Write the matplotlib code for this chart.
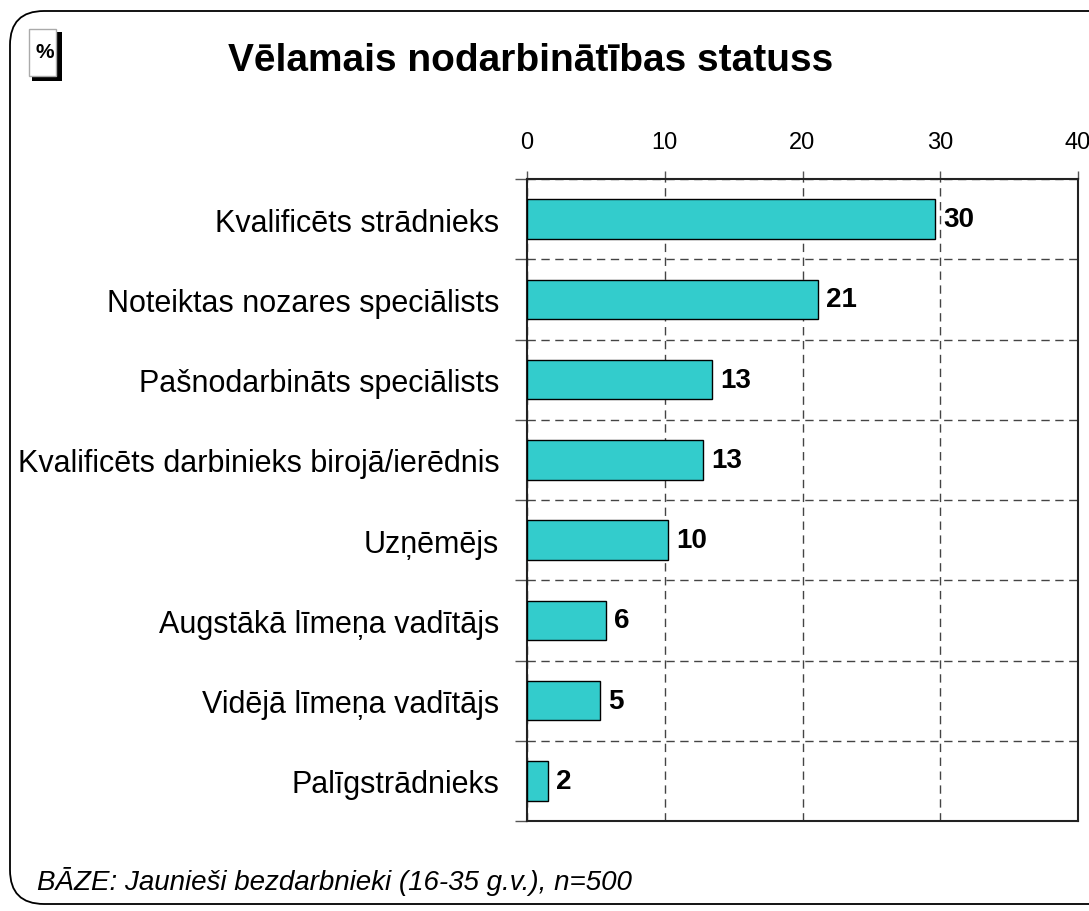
import matplotlib
matplotlib.use("Agg")
import matplotlib.pyplot as plt
from matplotlib.patches import FancyBboxPatch, Rectangle
from matplotlib.ticker import FixedLocator

plt.rcParams['font.family'] = ['Liberation Sans', 'DejaVu Sans']

# dati
categories = [
    "Kvalificēts strādnieks",
    "Noteiktas nozares speciālists",
    "Pašnodarbināts speciālists",
    "Kvalificēts darbinieks birojā/ierēdnis",
    "Uzņēmējs",
    "Augstākā līmeņa vadītājs",
    "Vidējā līmeņa vadītājs",
    "Palīgstrādnieks",
]
values = [29.6, 21.1, 13.4, 12.8, 10.2, 5.7, 5.3, 1.5]
value_labels = ["30", "21", "13", "13", "10", "6", "5", "2"]
x_ticks = [0, 10, 20, 30, 40]

title = "Vēlamais nodarbinātības statuss"
footer = "BĀZE: Jaunieši bezdarbnieki (16-35 g.v.), n=500"

W, H = 1089, 912
fig = plt.figure(figsize=(W / 100, H / 100), dpi=100)

# fons ar noapaļotu rāmi (pikseļu koordinātēs)
bg = fig.add_axes([0, 0, 1, 1], zorder=0)
bg.set_xlim(0, W)
bg.set_ylim(H, 0)
bg.axis("off")
bg.add_patch(FancyBboxPatch((10, 12), 1180, 893,
                            boxstyle="round,pad=0,rounding_size=34",
                            facecolor="white", edgecolor="black", lw=1.3))
# % zīme ar ēnu
bg.add_patch(Rectangle((32, 33), 30, 49, facecolor="black", edgecolor="none"))
bg.add_patch(Rectangle((29, 30), 27, 47, facecolor="white", edgecolor="#aaaaaa", lw=1))
bg.text(44.5, 52, "%", ha="center", va="center", fontsize=15, fontweight="bold")

bg.text(531, 61, title, ha="center", va="center", fontsize=28, fontweight="bold")
bg.text(37, 882, footer, ha="left", va="center", fontsize=20, style="italic")

# galvenais grafiks
ax = fig.add_axes([527 / W, 1 - 822 / H, (1078 - 527) / W, (822 - 180) / H], zorder=1)
ax.patch.set_alpha(0)
n = len(categories)
pos = list(range(n))
ax.barh(pos, values, height=0.49, color="#33CCCC", edgecolor="black", lw=1, zorder=3)
for p, v, lab in zip(pos, values, value_labels):
    ax.annotate(lab, (v, p), xytext=(6, 0), textcoords="offset points",
                ha="left", va="center", fontsize=20, fontweight="bold", zorder=4)

ax.set_xlim(0, 40)
ax.set_ylim(n - 0.5, -0.5)
ax.set_xticks(x_ticks)
ax.xaxis.tick_top()
ax.tick_params(axis="x", labelsize=17, length=6, direction="out", pad=13, width=1, color="#555555")

ax.set_yticks(pos)
ax.set_yticklabels(categories)
ax.yaxis.set_minor_locator(FixedLocator([i - 0.5 for i in range(n + 1)]))
ax.tick_params(axis="y", which="major", length=0, labelsize=22, pad=20)
ax.tick_params(axis="y", which="minor", length=9, direction="out", width=1, color="#555555")

ax.grid(axis="x", which="major", linestyle=(0, (6, 4)), color="#444444", lw=1, zorder=1)
ax.grid(axis="y", which="minor", linestyle=(0, (6, 4)), color="#444444", lw=1, zorder=1)
for s in ax.spines.values():
    s.set_color("#222222")
    s.set_linewidth(1.5)

fig.savefig("out.png", dpi=100)
